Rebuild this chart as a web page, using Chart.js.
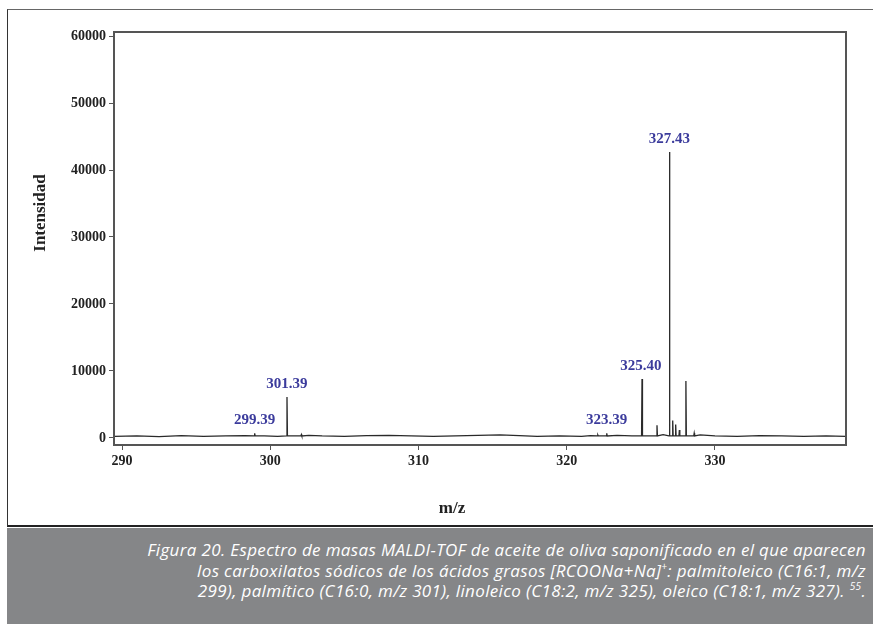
<!DOCTYPE html>
<html>
<head>
<meta charset="utf-8">
<script src="https://cdn.jsdelivr.net/npm/chart.js@4.4.1/dist/chart.umd.min.js"></script>
<style>
  body { margin: 0; background: #fff; width: 873px; height: 624px; overflow: hidden; position: relative; }
  #frame { position: absolute; left: 7px; top: 9px; width: 880px; height: 518px; border-left: 1.5px solid #333; border-top: 1.5px solid #666; border-bottom: 2px solid #222; box-sizing: border-box; }
  #chart { position: absolute; left: 0; top: 0; }
  #caption {
    position: absolute; left: 7px; top: 528px; width: 866px; height: 96px;
    background: #858688; color: #fff; box-sizing: border-box;
    padding: 12px 7px 0 0; text-align: right;
    font-family: "Open Sans", sans-serif; font-style: italic; font-size: 17px; line-height: 20.5px;
    letter-spacing: 0.35px; white-space: nowrap;
  }
  #caption sup { font-size: 10px; line-height: 0; vertical-align: 7px; }
</style>
</head>
<body>
<div id="frame"></div>
<canvas id="chart" width="873" height="528"></canvas>
<div id="caption">
  Figura 20. Espectro de masas MALDI-TOF de aceite de oliva saponificado en el que aparecen<br>
  los carboxilatos sódicos de los ácidos grasos [RCOONa+Na]<sup>+</sup>: palmitoleico (C16:1, m/z<br>
  299), palmítico (C16:0, m/z 301), linoleico (C18:2, m/z 325), oleico (C18:1, m/z 327). <sup>55</sup>.
</div>
<script>
  // peaks (m/z, intensity)
  const peakMz = [298.95, 301.13, 302.1, 322.1, 322.7, 325.08, 326.09, 326.93, 327.15, 327.35, 327.6, 328.04, 328.6];
  const peakInt = [700, 6100, 500, 450, 700, 8800, 1900, 42700, 2600, 2000, 1200, 8500, 700];

  // baseline noise
  const baseMz = [289.5, 291, 292.5, 294, 295.5, 297, 298.3, 299.6, 300.5, 302.6, 303.5, 305, 306.5, 308, 309.5, 311, 312.5, 314, 315.5, 316.8, 318, 319.5, 321, 321.6, 323.4, 324.4, 326.5, 329, 330, 331.5, 333, 334.5, 336, 337.5, 338.8];
  const baseInt = [250, 300, 200, 350, 250, 300, 350, 300, 250, 400, 300, 250, 350, 400, 300, 250, 300, 400, 450, 350, 250, 300, 250, 350, 400, 300, 500, 450, 300, 250, 350, 300, 250, 300, 250];

  // peak annotations
  const labelText = ['299.39', '301.39', '323.39', '325.40', '327.43'];
  const labelMz = [298.95, 301.13, 322.7, 325.0, 326.93];
  const labelInt = [700, 6100, 700, 8800, 42700];

  const xTicks = [290, 300, 310, 320, 330];
  const yTicks = [0, 10000, 20000, 30000, 40000, 50000, 60000];

  // build a stick spectrum on top of the baseline
  const points = baseMz.map((m, i) => ({ x: m, y: baseInt[i] }));
  peakMz.forEach((m, i) => {
    points.push({ x: m - 0.03, y: 300 });
    points.push({ x: m, y: peakInt[i] });
    points.push({ x: m + 0.03, y: 300 });
  });
  points.sort((a, b) => a.x - b.x);

  const extras = {
    id: 'extras',
    afterDraw(chart) {
      const { ctx, chartArea: a, scales: { x, y } } = chart;
      ctx.save();
      // plot frame
      ctx.strokeStyle = '#555';
      ctx.lineWidth = 2;
      ctx.strokeRect(a.left, a.top, a.right - a.left, a.bottom - a.top);
      // peak labels
      ctx.fillStyle = '#3b3b9c';
      ctx.font = 'bold 15px "Liberation Serif"';
      ctx.textAlign = 'center';
      ctx.textBaseline = 'middle';
      labelText.forEach((t, i) => {
        ctx.fillText(t, x.getPixelForValue(labelMz[i]), y.getPixelForValue(labelInt[i]) - 13);
      });
      // axis titles
      ctx.fillStyle = '#222';
      ctx.font = 'bold 17px "Liberation Serif"';
      ctx.fillText('m/z', 452, 509);
      ctx.translate(41, 213);
      ctx.rotate(-Math.PI / 2);
      ctx.fillText('Intensidad', 0, 0);
      ctx.restore();
    }
  };

  const tickFont = { family: 'Liberation Serif', size: 14, weight: 'bold' };

  new Chart(document.getElementById('chart'), {
    type: 'line',
    data: {
      datasets: [{
        data: points,
        borderColor: '#2a2a2a',
        borderWidth: 1.3,
        pointRadius: 0,
        tension: 0
      }]
    },
    options: {
      responsive: false,
      animation: false,
      layout: { padding: { top: 32, right: 27, left: 0, bottom: 0 } },
      plugins: { legend: { display: false }, tooltip: { enabled: false } },
      scales: {
        x: {
          type: 'linear',
          min: 289.46,
          max: 338.84,
          afterFit: s => { s.height = 83; },
          afterBuildTicks: s => { s.ticks = xTicks.map(v => ({ value: v })); },
          grid: { drawOnChartArea: false, tickLength: 5, color: '#555' },
          border: { color: '#555', width: 2 },
          ticks: { color: '#222', padding: 3, font: tickFont, callback: v => String(v) }
        },
        y: {
          min: -1050,
          max: 60600,
          afterFit: s => { s.width = 114; },
          afterBuildTicks: s => { s.ticks = yTicks.map(v => ({ value: v })); },
          grid: { drawOnChartArea: false, tickLength: 5, color: '#555' },
          border: { color: '#555', width: 2 },
          ticks: { color: '#222', padding: 3, font: tickFont, callback: v => String(v) }
        }
      }
    },
    plugins: [extras]
  });
</script>
</body>
</html>
